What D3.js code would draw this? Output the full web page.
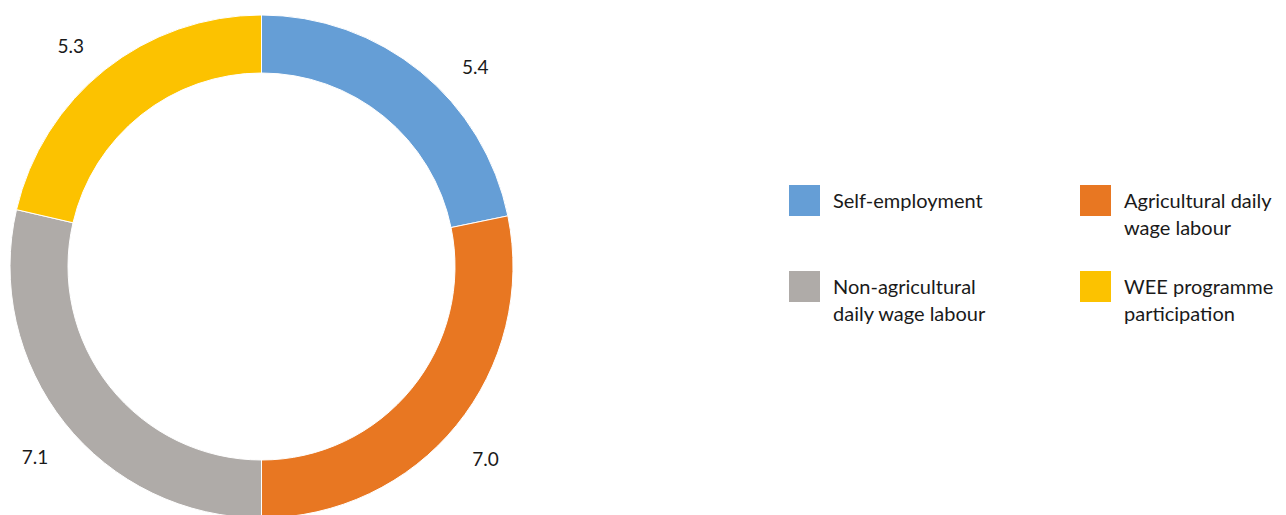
<!DOCTYPE html>
<html>
<head>
<meta charset="utf-8">
<script src="https://cdn.jsdelivr.net/npm/d3@7"></script>
<style>
  body { margin: 0; background: #fff; }
  svg text { font-family: Lato, "Noto Sans", sans-serif; fill: #1a1a1a; }
</style>
</head>
<body>
<svg id="chart" width="1286" height="515"></svg>
<script>
var categories = ["Self-employment", "Agricultural daily wage labour", "Non-agricultural daily wage labour", "WEE programme participation"];
var values = [5.4, 7.0, 7.1, 5.3];
var valueLabels = ["5.4", "7.0", "7.1", "5.3"];
var legendLines = [["Self-employment"], ["Agricultural daily", "wage labour"], ["Non-agricultural", "daily wage labour"], ["WEE programme", "participation"]];
var colors = ["#659ed6", "#e87722", "#afaba8", "#fcc200"];

var svg = d3.select("#chart");
var cx = 261.5, cy = 266.5, outerR = 251.5, innerR = 193.5;

var color = d3.scaleOrdinal().domain(categories).range(colors);

var pie = d3.pie().sort(null).value(function(d, i) { return values[i]; });
var arcs = pie(categories);

var arc = d3.arc().innerRadius(innerR).outerRadius(outerR);

var g = svg.append("g").attr("transform", "translate(" + cx + "," + cy + ")");

g.selectAll("path")
  .data(arcs)
  .enter().append("path")
  .attr("d", arc)
  .attr("fill", function(d) { return color(d.data); })
  .attr("stroke", "#fff")
  .attr("stroke-width", 1);

// value labels outside the ring (first one sits a bit further round, as in the original)
var labelR = 294;
var angleNudge = [0.13, 0.02, -0.02, -0.035];
g.selectAll("text.val")
  .data(arcs)
  .enter().append("text")
  .attr("class", "val")
  .attr("x", function(d, i) { var a = (d.startAngle + d.endAngle) / 2 + angleNudge[i]; return Math.sin(a) * labelR; })
  .attr("y", function(d, i) { var a = (d.startAngle + d.endAngle) / 2 + angleNudge[i]; return -Math.cos(a) * labelR + 3; })
  .attr("dy", "0.35em")
  .attr("text-anchor", "middle")
  .style("font-size", "19px")
  .text(function(d, i) { return valueLabels[i]; });

// legend, 2 columns
var legend = svg.append("g").attr("transform", "translate(789,185)");
var item = legend.selectAll("g")
  .data(categories)
  .enter().append("g")
  .attr("transform", function(d, i) { return "translate(" + (i % 2) * 291 + "," + Math.floor(i / 2) * 86 + ")"; });

item.append("rect")
  .attr("width", 31)
  .attr("height", 31)
  .attr("fill", function(d) { return color(d); });

item.each(function(d, i) {
  var t = d3.select(this).append("text")
    .attr("x", 44)
    .attr("y", 23)
    .style("font-size", "20px");
  legendLines[i].forEach(function(line, j) {
    t.append("tspan").attr("x", 44).attr("dy", j ? 27 : 0).text(line);
  });
});
</script>
</body>
</html>
